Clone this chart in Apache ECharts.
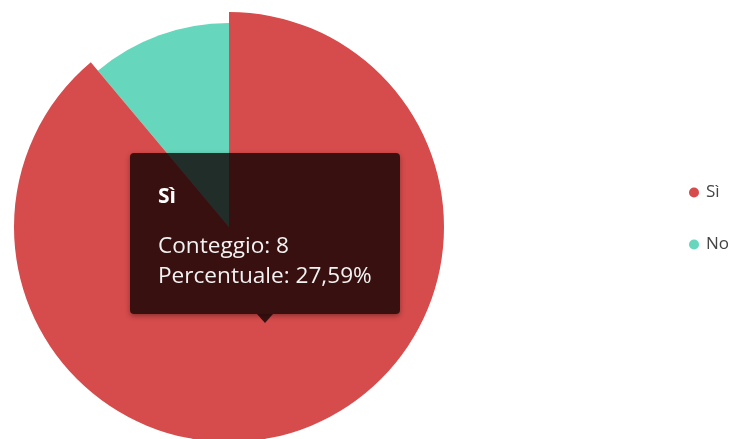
<!DOCTYPE html>
<html>
<head>
<meta charset="utf-8">
<script src="https://cdn.jsdelivr.net/npm/echarts@6/dist/echarts.min.js"></script>
<style>
html,body{margin:0;padding:0;background:#fff;}
#chart{width:745px;height:439px;}
</style>
</head>
<body>
<div id="chart"></div>
<script>
// ---- data ----
const categories = ['Sì', 'No'];
const counts = [8, 1];
const tooltipPercents = ['27,59%', '3,45%'];
const colors = ['#d64b4b', '#66d6bc'];
const countLabel = 'Conteggio';
const percentLabel = 'Percentuale';

const chart = echarts.init(document.getElementById('chart'), null, {renderer: 'canvas'});
const fontFamily = '"Open Sans", "Noto Sans", sans-serif';

const option = {
  animation: false,
  textStyle: {fontFamily: fontFamily},
  color: colors,
  legend: {
    orient: 'vertical',
    left: 684,
    top: 179,
    itemWidth: 10,
    itemHeight: 10,
    itemGap: 35,
    icon: 'circle',
    selectedMode: false,
    textStyle: {fontSize: 17, color: '#444', fontFamily: fontFamily, padding: [0, 0, 0, 2]},
    data: categories
  },
  tooltip: {
    trigger: 'item',
    alwaysShowContent: true,
    transitionDuration: 0,
    showDelay: 0,
    position: [130, 153],
    padding: [30, 28, 24, 28],
    backgroundColor: 'rgba(14,0,0,0.79)',
    borderWidth: 0,
    extraCssText: 'border-radius:4px;box-shadow:0 2px 5px rgba(0,0,0,0.35);',
    textStyle: {color: '#f2f2f2', fontSize: 22, fontFamily: fontFamily},
    formatter: function (p) {
      const i = p.dataIndex;
      return '<div style="width:214px;white-space:nowrap;font-family:' + fontFamily.replace(/"/g, "'") + ';">' +
        '<div style="font-size:21px;font-weight:bold;line-height:24px;color:#fff;">' + categories[i] + '</div>' +
        '<div style="margin-top:23px;font-size:22.6px;line-height:30px;">' + countLabel + ': ' + counts[i] + '</div>' +
        '<div style="font-size:22.6px;line-height:30px;">' + percentLabel + ': ' + tooltipPercents[i] + '</div>' +
        '</div>' +
        '<div style="position:absolute;left:127px;bottom:-9px;width:0;height:0;border-left:8px solid transparent;border-right:8px solid transparent;border-top:9px solid rgba(14,0,0,0.79);"></div>';
    }
  },
  series: [{
    type: 'pie',
    center: [229, 227],
    radius: [0, 204],
    startAngle: 90,
    clockwise: true,
    animation: false,
    stateAnimation: {duration: 0},
    label: {show: false},
    labelLine: {show: false},
    itemStyle: {borderWidth: 0},
    emphasis: {
      scale: true,
      scaleSize: 11,
      label: {show: false},
      itemStyle: {shadowBlur: 0}
    },
    data: categories.map((c, i) => ({
      name: c,
      value: counts[i],
      itemStyle: {color: colors[i]},
      emphasis: {itemStyle: {color: colors[i]}}
    }))
  }]
};

chart.setOption(option);
chart.dispatchAction({type: 'highlight', seriesIndex: 0, dataIndex: 0});
chart.dispatchAction({type: 'showTip', seriesIndex: 0, dataIndex: 0});
</script>
</body>
</html>
